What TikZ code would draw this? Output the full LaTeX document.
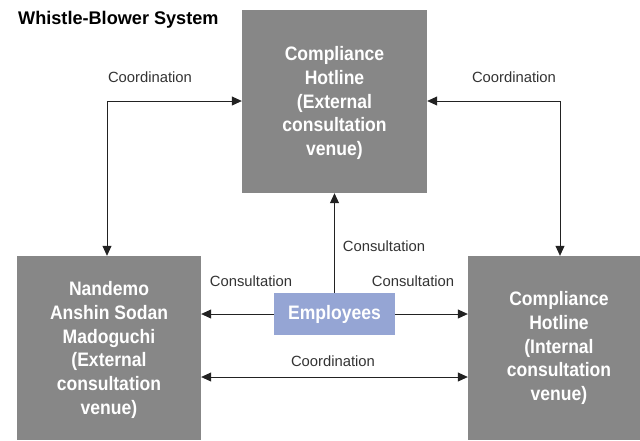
\documentclass[tikz,border=0pt]{standalone}
\usepackage{fontspec}
\setmainfont{Liberation Sans}
\newfontfamily\condbold[FakeStretch=0.9]{Liberation Sans Bold}
\newfontfamily\titlebold[FakeStretch=0.99]{Liberation Sans Bold}
\usetikzlibrary{arrows.meta}
\definecolor{boxgray}{HTML}{878787}
\definecolor{empblue}{HTML}{95A5D4}
\definecolor{linegray}{HTML}{222222}
\definecolor{labelgray}{HTML}{333333}
\tikzset{
  venue/.style={fill=boxgray, draw=none, text=white, align=center,
    font=\condbold\fontsize{19.5}{23.8}\selectfont, inner sep=0pt},
  empbox/.style={fill=empblue, draw=none, text=white,
    font=\condbold\fontsize{19.5}{22}\selectfont, inner sep=0pt},
  flow/.style={draw=linegray, line width=0.8pt,
    -{Triangle[length=10pt,width=9pt]}},
  both/.style={flow, {Triangle[length=10pt,width=9pt]}-{Triangle[length=10pt,width=9pt]}},
  lbl/.style={text=labelgray, font=\fontsize{14.8}{16}\selectfont, inner sep=0pt}
}
\begin{document}
\begin{tikzpicture}[x=1pt,y=-1pt]
  \useasboundingbox (0,0) rectangle (640,440);
  % venue boxes
  \node[venue, minimum width=185pt, minimum height=183pt] (top) at (334.5,101.5) {};
  \node[venue] at (334.5,103) {Compliance\\Hotline\\(External\\consultation\\venue)};
  \node[venue, minimum width=184pt, minimum height=184pt] (left) at (109,348) {};
  \node[venue] at (109,350) {Nandemo\\Anshin Sodan\\Madoguchi\\(External\\consultation\\venue)};
  \node[venue, minimum width=172pt, minimum height=184pt] (right) at (554,348) {};
  \node[venue] at (559,348) {Compliance\\Hotline\\(Internal\\consultation\\venue)};
  \node[empbox, minimum width=121pt, minimum height=42pt] (emp) at (334.5,314) {Employees};
  % title
  \node[anchor=west, font=\titlebold\fontsize{18.3}{20}\selectfont, inner sep=0pt] (title) at (18,20) {Whistle-Blower System};
  % coordination links
  \coordinate (lc) at (107,101);
  \coordinate (rc) at (560,101);
  \draw[both] (top.west |- lc) -- (lc) -- (lc |- left.north);
  \draw[both] (top.east |- rc) -- (rc) -- (rc |- right.north);
  \draw[both] (left.east |- 0,377) -- (right.west |- 0,377);
  % consultation links
  \draw[flow] (emp.north) -- (top.south);
  \draw[flow] (emp.west) -- (left.east |- emp.west);
  \draw[flow] (emp.east) -- (right.west |- emp.east);
  % labels
  \node[lbl] (l1) at (150,77) {Coordination};
  \node[lbl] (l2) at (514,77) {Coordination};
  \node[lbl] (l3) at (384,246) {Consultation};
  \node[lbl] (l4) at (251,281) {Consultation};
  \node[lbl] (l5) at (413,281) {Consultation};
  \node[lbl] (l6) at (333,361) {Coordination};
\end{tikzpicture}
\end{document}
